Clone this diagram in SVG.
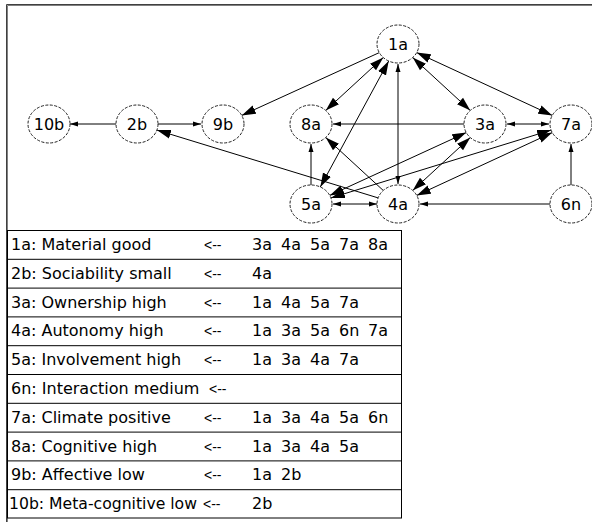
<svg xmlns="http://www.w3.org/2000/svg" width="592" height="522" viewBox="0 0 592 522">
  <style>
    .node ellipse { fill: #fff; stroke: #222; stroke-width: 1; stroke-dasharray: 3 1.5; }
    .node text, .legend text { font-family: "DejaVu Sans", sans-serif; font-size: 16px; fill: #000; }
    .node text { text-anchor: middle; }
    .edges line { stroke: #000; stroke-width: 1; fill: none; }
    .big { marker-end: url(#ahBig); }
    .big2 { marker-start: url(#ahBig); marker-end: url(#ahBig); }
    .sm { marker-end: url(#ahSm); }
    .sm2 { marker-start: url(#ahSm); marker-end: url(#ahSm); }
    .legend line { stroke: #000; stroke-width: 1; }
    .legend .arr { font-family: "Liberation Sans", sans-serif; font-size: 14px; }
  </style>
  <defs>
    <marker id="ahBig" viewBox="0 0 14 10" refX="14" refY="5" markerWidth="14" markerHeight="10" markerUnits="userSpaceOnUse" orient="auto-start-reverse">
      <path d="M0,0.5 L14,5 L0,9.5 z" fill="#000"/>
    </marker>
    <marker id="ahSm" viewBox="0 0 8 6" refX="8" refY="3" markerWidth="8" markerHeight="6" markerUnits="userSpaceOnUse" orient="auto-start-reverse">
      <path d="M0,0.5 L8,3 L0,5.5 z" fill="#000"/>
    </marker>
  </defs>

  <rect x="0" y="0" width="592" height="522" fill="#fff"/>

  <!-- sunken frame -->
  <path d="M6.5,522 V4.5 H592" fill="none" stroke="#404040" stroke-width="1"/>
  <path d="M7.5,522 V5.5 H592" fill="none" stroke="#808080" stroke-width="1"/>

  <!-- connectors -->
  <g id="edges" class="edges">
    <line class="sm" x1="116" y1="124" x2="70" y2="124"/>
    <line class="sm" x1="158" y1="124" x2="201" y2="124"/>
    <line class="big" x1="379.3" y1="52.6" x2="241.7" y2="115.4"/>
    <line class="big" x1="378.1" y1="197.9" x2="156.9" y2="130.1"/>
    <line class="big2" x1="383.3" y1="57.5" x2="325.7" y2="110.5"/>
    <line class="big2" x1="388.7" y1="61" x2="320.3" y2="187"/>
    <line class="sm2" x1="398" y1="64" x2="398" y2="184"/>
    <line class="big2" x1="412.7" y1="57.5" x2="470.3" y2="110.5"/>
    <line class="big2" x1="416.7" y1="52.6" x2="552.3" y2="115.4"/>
    <line class="sm" x1="464" y1="124" x2="333" y2="124"/>
    <line class="sm2" x1="507" y1="124" x2="549" y2="124"/>
    <line class="sm" x1="311" y1="185" x2="311" y2="144"/>
    <line class="big" x1="383.3" y1="190.5" x2="325.7" y2="137.5"/>
    <line class="big2" x1="329.7" y1="195.4" x2="466.3" y2="132.6"/>
    <line class="big2" x1="330.9" y1="197.9" x2="551.1" y2="130.1"/>
    <line class="big2" x1="412.7" y1="190.5" x2="470.3" y2="137.5"/>
    <line class="big2" x1="416.7" y1="195.4" x2="552.3" y2="132.6"/>
    <line class="sm2" x1="377" y1="204" x2="333" y2="204"/>
    <line class="sm" x1="550" y1="204" x2="420" y2="204"/>
    <line class="sm" x1="571" y1="185" x2="571" y2="144"/>
  </g>

  <!-- nodes -->
  <g id="n1a" class="node"><ellipse cx="398" cy="44" rx="21" ry="19"/><text x="398" y="50">1a</text></g>
  <g id="n10b" class="node"><ellipse cx="49" cy="124" rx="21" ry="19"/><text x="49" y="130">10b</text></g>
  <g id="n2b" class="node"><ellipse cx="137" cy="124" rx="21" ry="19"/><text x="137" y="130">2b</text></g>
  <g id="n9b" class="node"><ellipse cx="223" cy="124" rx="21" ry="19"/><text x="223" y="130">9b</text></g>
  <g id="n8a" class="node"><ellipse cx="311" cy="124" rx="21" ry="19"/><text x="311" y="130">8a</text></g>
  <g id="n3a" class="node"><ellipse cx="485" cy="124" rx="21" ry="19"/><text x="485" y="130">3a</text></g>
  <g id="n7a" class="node"><ellipse cx="571" cy="124" rx="21" ry="19"/><text x="571" y="130">7a</text></g>
  <g id="n5a" class="node"><ellipse cx="311" cy="204" rx="21" ry="19"/><text x="311" y="210">5a</text></g>
  <g id="n4a" class="node"><ellipse cx="398" cy="204" rx="21" ry="19"/><text x="398" y="210">4a</text></g>
  <g id="n6n" class="node"><ellipse cx="571" cy="204" rx="21" ry="19"/><text x="571" y="210">6n</text></g>

  <!-- legend table -->
  <g id="legend" class="legend">
    <rect x="7.5" y="230.5" width="394" height="287.5" fill="#fff" stroke="#000" stroke-width="1"/>
    <line x1="7.5" y1="259.3" x2="401.5" y2="259.3"/>
    <line x1="7.5" y1="288.1" x2="401.5" y2="288.1"/>
    <line x1="7.5" y1="316.9" x2="401.5" y2="316.9"/>
    <line x1="7.5" y1="345.7" x2="401.5" y2="345.7"/>
    <line x1="7.5" y1="374.5" x2="401.5" y2="374.5"/>
    <line x1="7.5" y1="403.3" x2="401.5" y2="403.3"/>
    <line x1="7.5" y1="432.1" x2="401.5" y2="432.1"/>
    <line x1="7.5" y1="460.9" x2="401.5" y2="460.9"/>
    <line x1="7.5" y1="489.7" x2="401.5" y2="489.7"/>

    <text x="11" y="250">1a: Material good</text>
    <text class="arr" x="204" y="250">&lt;--</text>
    <text x="252" y="250">3a</text><text x="281" y="250">4a</text><text x="310" y="250">5a</text><text x="339" y="250">7a</text><text x="368" y="250">8a</text>

    <text x="11" y="278.8">2b: Sociability small</text>
    <text class="arr" x="204" y="278.8">&lt;--</text>
    <text x="252" y="278.8">4a</text>

    <text x="11" y="307.6">3a: Ownership high</text>
    <text class="arr" x="204" y="307.6">&lt;--</text>
    <text x="252" y="307.6">1a</text><text x="281" y="307.6">4a</text><text x="310" y="307.6">5a</text><text x="339" y="307.6">7a</text>

    <text x="11" y="336.4">4a: Autonomy high</text>
    <text class="arr" x="204" y="336.4">&lt;--</text>
    <text x="252" y="336.4">1a</text><text x="281" y="336.4">3a</text><text x="310" y="336.4">5a</text><text x="339" y="336.4">6n</text><text x="368" y="336.4">7a</text>

    <text x="11" y="365.2">5a: Involvement high</text>
    <text class="arr" x="204" y="365.2">&lt;--</text>
    <text x="252" y="365.2">1a</text><text x="281" y="365.2">3a</text><text x="310" y="365.2">4a</text><text x="339" y="365.2">7a</text>

    <text x="11" y="394">6n: Interaction medium</text>
    <text class="arr" x="209" y="394">&lt;--</text>

    <text x="11" y="422.8">7a: Climate positive</text>
    <text class="arr" x="204" y="422.8">&lt;--</text>
    <text x="252" y="422.8">1a</text><text x="281" y="422.8">3a</text><text x="310" y="422.8">4a</text><text x="339" y="422.8">5a</text><text x="368" y="422.8">6n</text>

    <text x="11" y="451.6">8a: Cognitive high</text>
    <text class="arr" x="204" y="451.6">&lt;--</text>
    <text x="252" y="451.6">1a</text><text x="281" y="451.6">3a</text><text x="310" y="451.6">4a</text><text x="339" y="451.6">5a</text>

    <text x="11" y="480.4">9b: Affective low</text>
    <text class="arr" x="204" y="480.4">&lt;--</text>
    <text x="252" y="480.4">1a</text><text x="281" y="480.4">2b</text>

    <text x="9" y="509.2" textLength="188" lengthAdjust="spacingAndGlyphs">10b: Meta-cognitive low</text>
    <text class="arr" x="203" y="509.2">&lt;--</text>
    <text x="252" y="509.2">2b</text>
  </g>
</svg>
